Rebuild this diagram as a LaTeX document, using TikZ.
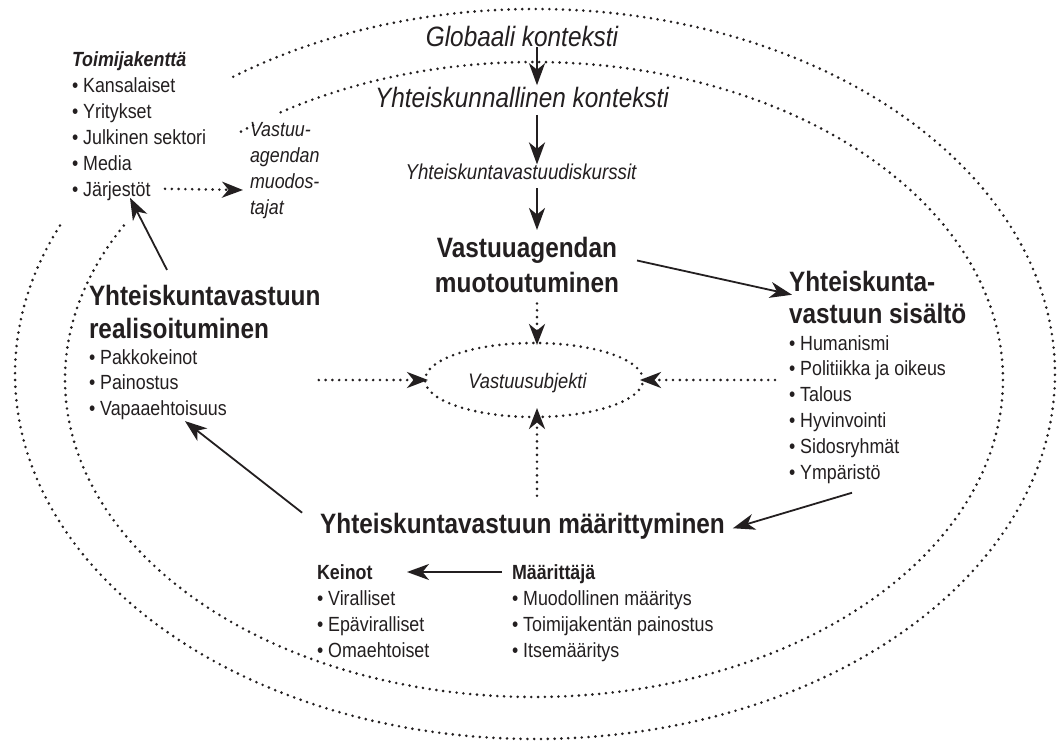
\documentclass[tikz,border=0pt]{standalone}
\usepackage{fontspec}
\setmainfont{Liberation Sans}[FakeStretch=0.87]
\usetikzlibrary{arrows.meta,shapes.geometric}
\definecolor{ink}{RGB}{35,31,32}
\newcommand\bul{\textbullet\ }
\begin{document}
\begin{tikzpicture}[x=1pt,y=-1pt,
  dots/.style={draw=ink, line width=2.9pt, line cap=round, dash pattern=on 0pt off 6.8pt},
  arr/.style={draw=ink, line width=2.5pt, -{Stealth[length=22pt,width=16pt,inset=6.5pt]}},
  thinarr/.style={arr, line width=1.8pt},
  darr/.style={dots, -{Stealth[length=21pt,width=16pt,inset=6.5pt]}},
  txt/.style={inner sep=0pt, outer sep=0pt, text=ink},
  ctx/.style={txt, font=\fontsize{28}{33}\selectfont\itshape},
  head/.style={txt, font=\fontsize{28}{33}\selectfont\bfseries},
  lst/.style={txt, font=\fontsize{20.5}{26}\selectfont},
]
\useasboundingbox (0,0) rectangle (1060,754);
\fill[white] (0,0) rectangle (1060,754);

% context ellipses
\draw[dots] plot[domain=156:486, samples=500] ({535+520*cos(\x)},{374-365*sin(\x)});
\draw[dots] plot[domain=151:482.8, samples=500] ({534+469*cos(\x)},{379.5-317.5*sin(\x)});
\draw[dots] plot[domain=126.8:129.6, samples=10] ({534+469*cos(\x)},{379.5-317.5*sin(\x)});

% texts
\node[ctx, anchor=base] (glob) at (522,47) {Globaali konteksti};
\node[ctx, anchor=base] (yk) at (522,108) {Yhteiskunnallinen konteksti};
\node[txt, font=\fontsize{21.5}{26}\selectfont\itshape, anchor=base] (disk) at (521,180) {Yhteiskuntavastuudiskurssit};
\node[head, font=\fontsize{28}{35}\selectfont\bfseries, anchor=base] (va) at (527,258)
  {\begin{tabular}[t]{@{}c@{}}Vastuuagendan\\muotoutuminen\end{tabular}};
\node[head, font=\fontsize{28}{32.5}\selectfont\bfseries, anchor=base west] (sish) at (789,291)
  {\begin{tabular}[t]{@{}l@{}}Yhteiskunta-\\vastuun sisältö\end{tabular}};
\node[lst, font=\fontsize{20.5}{25.8}\selectfont, anchor=base west] (sisl) at (789,350)
  {\begin{tabular}[t]{@{}l@{}}\bul Humanismi\\\bul Politiikka ja oikeus\\\bul Talous\\\bul Hyvinvointi\\\bul Sidosryhmät\\\bul Ympäristö\end{tabular}};
\node[lst, anchor=base west] (toim) at (72,67)
  {\begin{tabular}[t]{@{}l@{}}{\bfseries\itshape Toimijakenttä}\\\bul Kansalaiset\\\bul Yritykset\\\bul Julkinen sektori\\\bul Media\\\bul Järjestöt\end{tabular}};
\node[lst, font=\fontsize{20.5}{25.7}\selectfont\itshape, anchor=base west] (vag) at (250,137)
  {\begin{tabular}[t]{@{}l@{}}Vastuu-\\agendan\\muodos-\\tajat\end{tabular}};
\node[head, anchor=base west] (real) at (89,305)
  {\begin{tabular}[t]{@{}l@{}}Yhteiskuntavastuun\\realisoituminen\end{tabular}};
\node[lst, font=\fontsize{20.5}{25.7}\selectfont, anchor=base west] (reall) at (89,364)
  {\begin{tabular}[t]{@{}l@{}}\bul Pakkokeinot\\\bul Painostus\\\bul Vapaaehtoisuus\end{tabular}};
\node[head, anchor=base] (maar) at (522.5,533) {Yhteiskuntavastuun määrittyminen};
\node[lst, anchor=base west] (kein) at (317,579)
  {\begin{tabular}[t]{@{}l@{}}{\bfseries Keinot}\\\bul Viralliset\\\bul Epäviralliset\\\bul Omaehtoiset\end{tabular}};
\node[lst, anchor=base west] (mti) at (512,579)
  {\begin{tabular}[t]{@{}l@{}}{\bfseries Määrittäjä}\\\bul Muodollinen määritys\\\bul Toimijakentän painostus\\\bul Itsemääritys\end{tabular}};
\node[ellipse, dots, minimum width=218pt, minimum height=74pt, inner sep=0pt, outer sep=0pt] (sube) at (534,380) {};
\node[txt, font=\fontsize{21}{26}\selectfont\itshape, anchor=base] (sub) at (527.5,388) {Vastuusubjekti};

% connectors
\coordinate (ax) at (537,0);
\draw[arr, shorten >=2.5pt] (glob.south -| ax) -- (yk.north -| ax);
\draw[arr, shorten <=6.7pt] (yk.south -| ax) -- (disk.north -| ax);
\draw[arr, shorten <=8pt, shorten >=3.5pt] (disk.south -| ax) -- (va.north -| ax);
\draw[thinarr] ([shift={(18,-8)}]va.east) -- ([shift={(3,-6)}]sish.west);
\draw[thinarr] ([shift={(63,6)}]sisl.south west) -- ([shift={(8,2.5)}]maar.east);
\draw[thinarr] ([shift={(-18,0)}]maar.north west) -- ([shift={(96,-2)}]reall.south west);
\draw[thinarr] ([shift={(78,-12)}]real.north west) -- ([shift={(58,-7)}]toim.south west);
\draw[darr] ([shift={(93,-16)}]toim.south west) -- ([shift={(-7,19.6)}]vag.west);
\draw[thinarr] ([shift={(-10,11.2)}]mti.north west) -- ([shift={(90,11.2)}]kein.north west);
\draw[darr, shorten >=35pt] (va.south -| ax) -- (sube.center -| ax);
\draw[darr, shorten <=17pt, shorten >=28pt] (maar.north -| ax) -- (sube.center -| ax);
\draw[darr, shorten >=-3pt] ([xshift=92pt]reall.east |- sube.west) -- (sube.west);
\draw[darr, shorten >=-3pt] ([xshift=-14pt]sisl.west |- sube.east) -- (sube.east);
\end{tikzpicture}
\end{document}
